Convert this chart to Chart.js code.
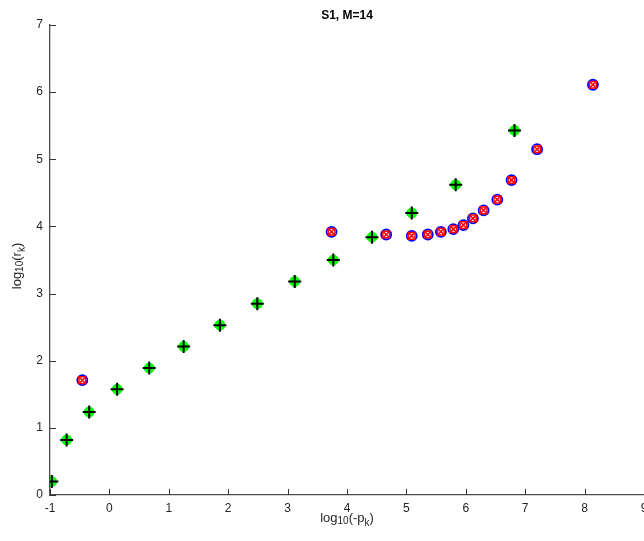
<!DOCTYPE html>
<html>
<head>
<meta charset="utf-8">
<script src="https://cdn.jsdelivr.net/npm/chart.js@4.4.0/dist/chart.umd.min.js"></script>
<style>
  html, body { margin: 0; padding: 0; background: #fff; }
  canvas { display: block; }
</style>
</head>
<body>
<canvas id="myChart" width="644" height="541"></canvas>
<script>
// poles found with the plus marker (green circle + black cross)
const plusLogP = [-0.97, -0.72, -0.34, 0.13, 0.67, 1.25, 1.86, 2.49, 3.12, 3.77, 4.42, 5.09, 5.83, 6.82];
const plusLogR = [0.20, 0.82, 1.235, 1.575, 1.89, 2.21, 2.53, 2.85, 3.18, 3.50, 3.84, 4.20, 4.62, 5.43];

// poles found with the boxed marker (blue circle + red square/x)
const boxLogP = [-0.456, 3.74, 4.66, 5.09, 5.36, 5.58, 5.79, 5.96, 6.12, 6.30, 6.53, 6.77, 7.20, 8.14];
const boxLogR = [1.71, 3.92, 3.88, 3.86, 3.88, 3.92, 3.96, 4.02, 4.12, 4.24, 4.40, 4.69, 5.15, 6.11];

const xTicks = [-1, 0, 1, 2, 3, 4, 5, 6, 7, 8, 9];
const yTicks = [0, 1, 2, 3, 4, 5, 6, 7];

const titleText = "S1, M=14";
const xLabelParts = [["log", 0], ["10", 1], ["(-p", 0], ["k", 2], [")", 0]];
const yLabelParts = [["log", 0], ["10", 1], ["(r", 0], ["k", 2], [")", 0]];

const FONT = "'Liberation Sans', Arial, Helvetica, sans-serif";

function points(xs, ys) {
  return xs.map((x, i) => ({ x: x, y: ys[i] }));
}

// text with subscripts: 0 = normal, 1 = small low, 2 = small lower
function drawSubText(ctx, parts, cx, cy) {
  const fonts = ["13px " + FONT, "10px " + FONT, "10px " + FONT];
  const drops = [0, 2, 4];
  let total = 0;
  parts.forEach(p => { ctx.font = fonts[p[1]]; total += ctx.measureText(p[0]).width; });
  let x = cx - total / 2;
  ctx.textBaseline = "alphabetic";
  ctx.textAlign = "left";
  parts.forEach(p => {
    ctx.font = fonts[p[1]];
    ctx.fillText(p[0], x, cy + drops[p[1]]);
    x += ctx.measureText(p[0]).width;
  });
}

// the x axis runs right to the canvas edge, its last label gets cut off
function noSidePadding(s) {
  s.paddingLeft = 0;
  s.paddingRight = 0;
  if (s._margins) { s._margins.left = 0; s._margins.right = 0; }
}

const axisDecor = {
  id: "axisDecor",
  afterDraw(chart) {
    const ctx = chart.ctx;
    const xs = chart.scales.x, ys = chart.scales.y;
    const area = chart.chartArea;
    ctx.save();
    // inward tick marks
    ctx.strokeStyle = "#333";
    ctx.lineWidth = 1;
    ctx.beginPath();
    xTicks.forEach(v => {
      const px = Math.round(xs.getPixelForValue(v)) + 0.5;
      ctx.moveTo(px, area.bottom);
      ctx.lineTo(px, area.bottom - 6);
    });
    yTicks.forEach(v => {
      const py = Math.round(ys.getPixelForValue(v)) + 0.5;
      ctx.moveTo(area.left, py);
      ctx.lineTo(area.left + 6, py);
    });
    ctx.stroke();

    // axis titles
    ctx.fillStyle = "#262626";
    drawSubText(ctx, xLabelParts, (area.left + area.right) / 2, 522);
    ctx.translate(21, (area.top + area.bottom) / 2 + 6);
    ctx.rotate(-Math.PI / 2);
    drawSubText(ctx, yLabelParts, 0, 0);
    ctx.restore();
  }
};

new Chart(document.getElementById("myChart").getContext("2d"), {
  type: "scatter",
  data: {
    datasets: [
      { data: points(plusLogP, plusLogR), pointStyle: "cross", pointRadius: 6.5,
        borderColor: "#000", borderWidth: 2, backgroundColor: "#000", order: 0 },
      { data: points(plusLogP, plusLogR), pointStyle: "circle", pointRadius: 5,
        borderColor: "#00ff00", borderWidth: 1, backgroundColor: "#00ff00", order: 1 },
      { data: points(boxLogP, boxLogR), pointStyle: "crossRot", pointRadius: 4.6,
        borderColor: "#ff0000", borderWidth: 1.5, backgroundColor: "#ff0000", order: 2 },
      { data: points(boxLogP, boxLogR), pointStyle: "rect", pointRadius: 4.7,
        borderColor: "#ff0000", borderWidth: 1.5, backgroundColor: "rgba(0,0,0,0)", order: 3 },
      { data: points(boxLogP, boxLogR), pointStyle: "circle", pointRadius: 5,
        borderColor: "#0000ff", borderWidth: 1.8, backgroundColor: "rgba(0,0,0,0)", order: 4 }
    ]
  },
  options: {
    responsive: false,
    animation: false,
    events: [],
    layout: { padding: 0, autoPadding: false },
    plugins: {
      legend: { display: false },
      tooltip: { enabled: false },
      title: {
        display: true,
        fullSize: false,
        text: titleText,
        color: "#000",
        font: { family: FONT, size: 12, weight: "bold" },
        padding: { top: 8, bottom: 2.6 }
      }
    },
    scales: {
      x: {
        type: "linear",
        min: -1,
        max: 9,
        afterBuildTicks: s => { s.ticks = xTicks.map(v => ({ value: v })); },
        afterFit: s => { s.height = 46; noSidePadding(s); },
        grid: { drawOnChartArea: false, drawTicks: false },
        border: { color: "#4d4d4d", width: 1.3 },
        ticks: { color: "#262626", padding: 6, maxRotation: 0, font: { family: FONT, size: 12 } }
      },
      y: {
        type: "linear",
        min: 0,
        max: 7,
        afterBuildTicks: s => { s.ticks = yTicks.map(v => ({ value: v })); },
        afterFit: s => { s.width = 50; s.paddingTop = 0; s.paddingBottom = 0; },
        grid: { drawOnChartArea: false, drawTicks: false },
        border: { color: "#4d4d4d", width: 1.3 },
        ticks: { color: "#262626", padding: 7, font: { family: FONT, size: 12 } }
      }
    }
  },
  plugins: [axisDecor]
});
</script>
</body>
</html>
